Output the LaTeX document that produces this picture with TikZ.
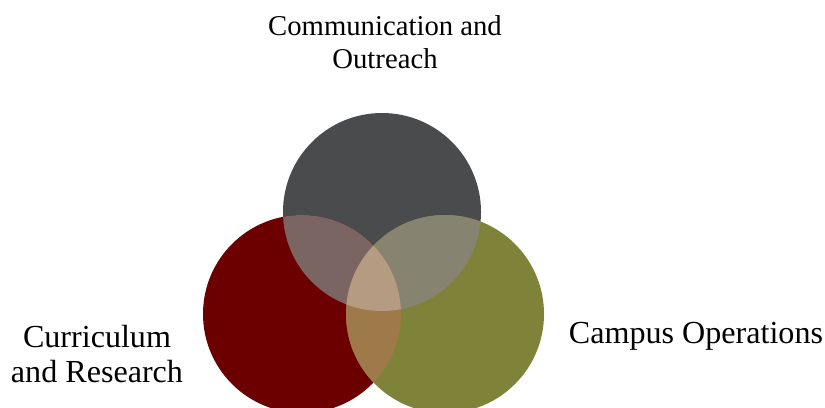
\documentclass[tikz,border=0pt]{standalone}
\usepackage{fontspec}
\setmainfont{Liberation Serif}

\definecolor{commgray}{HTML}{4A4B4D}
\definecolor{currred}{HTML}{6C0000}
\definecolor{campolive}{HTML}{7F833A}
\definecolor{rgmix}{HTML}{7B6563}
\definecolor{gomix}{HTML}{868370}
\definecolor{romix}{HTML}{9E7A4A}
\definecolor{allmix}{HTML}{B49B82}

\tikzset{
  venn/.style={circle, minimum size=5.94cm, inner sep=0pt},
  label text/.style={align=center, font=\fontsize{24.5}{28.5}\selectfont},
  big label/.style={label text, font=\fontsize{27.4}{30}\selectfont}
}

\begin{document}
\begin{tikzpicture}[x=0.03cm, y=-0.03cm]

        \useasboundingbox (0,0) rectangle (825,407);
        \clip (0,0) rectangle (825,407);

        % ------------------ Circles ------------------

        \node[venn, fill=commgray] (comm) at (382,212) {};
        \node[venn, fill=currred] (curr) at (302,314) {};
        \node[venn, fill=campolive] (camp) at (445,314) {};

        % ------------------ Overlaps ------------------

        % with Communication
        \begin{scope}
            \clip (comm.center) circle[radius=2.97cm];
            \fill[rgmix] (curr.center) circle[radius=2.97cm];
            \fill[gomix] (camp.center) circle[radius=2.97cm];
        \end{scope}

        % Curriculum and Campus, then all three
        \begin{scope}
            \clip (curr.center) circle[radius=2.97cm];
            \fill[romix] (camp.center) circle[radius=2.97cm];
            \clip (camp.center) circle[radius=2.97cm];
            \fill[allmix] (comm.center) circle[radius=2.97cm];
        \end{scope}

        % ------------------ Labels ------------------

        \node[label text] (commlabel) at (385,42) {Communication and\\Outreach};
        \node[big label] (currlabel) at (97,354) {Curriculum\\and Research};
        \node[big label] (camplabel) at (696,336) {Campus Operations};

\end{tikzpicture}
\end{document}
